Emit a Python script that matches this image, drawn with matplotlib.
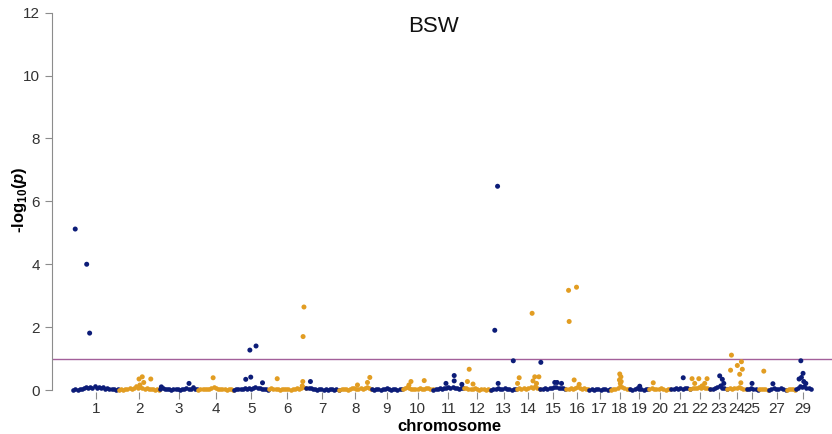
import matplotlib.pyplot as plt
import numpy as np

plt.rcParams['font.family'] = ['Liberation Sans', 'DejaVu Sans']
plt.rcParams['mathtext.fontset'] = 'custom'
plt.rcParams['mathtext.rm'] = 'Liberation Sans'
plt.rcParams['mathtext.bf'] = 'Liberation Sans:bold'
plt.rcParams['mathtext.bfit'] = 'Liberation Sans:bold:italic'

# chromosome lengths (Mb)
chrom_len = [155, 141, 129, 122, 119, 127, 112, 111, 104, 105, 104, 92, 88, 80, 88,
             78, 73, 65, 66, 75, 65, 68, 58, 65, 41, 34, 61, 31, 54]
tick_chroms = list(range(1, 26)) + [27, 29]
threshold = 1.0

# background markers near zero, spread along each chromosome
base_vals = [
    [0.01, 0.02, 0.01, 0.02, 0.03, 0.05, 0.09, 0.06, 0.11, 0.08, 0.12, 0.07, 0.10, 0.05, 0.09, 0.04, 0.06, 0.03, 0.02, 0.04, 0.01, 0.02],
    [0.01, 0.02, 0.01, 0.03, 0.02, 0.05, 0.04, 0.08, 0.12, 0.06, 0.10, 0.05, 0.03, 0.07, 0.04, 0.02, 0.03, 0.01, 0.02, 0.01],
    [0.02, 0.08, 0.04, 0.02, 0.03, 0.01, 0.02, 0.04, 0.02, 0.01, 0.03, 0.02, 0.05, 0.02, 0.03, 0.09, 0.04, 0.02],
    [0.01, 0.02, 0.03, 0.02, 0.04, 0.03, 0.06, 0.10, 0.05, 0.03, 0.02, 0.04, 0.02, 0.01, 0.03, 0.02, 0.01],
    [0.01, 0.02, 0.03, 0.02, 0.04, 0.05, 0.03, 0.08, 0.04, 0.06, 0.09, 0.05, 0.07, 0.03, 0.04, 0.02, 0.01],
    [0.03, 0.06, 0.04, 0.02, 0.03, 0.01, 0.02, 0.04, 0.03, 0.02, 0.01, 0.03, 0.02, 0.05, 0.04, 0.08, 0.10, 0.06],
    [0.06, 0.08, 0.05, 0.03, 0.02, 0.01, 0.02, 0.03, 0.01, 0.02, 0.01, 0.03, 0.02, 0.01, 0.02, 0.01],
    [0.01, 0.02, 0.03, 0.02, 0.01, 0.03, 0.05, 0.08, 0.04, 0.03, 0.06, 0.04, 0.07, 0.09, 0.05, 0.03],
    [0.02, 0.01, 0.03, 0.02, 0.01, 0.04, 0.02, 0.05, 0.03, 0.01, 0.04, 0.02, 0.01, 0.03, 0.02],
    [0.04, 0.07, 0.10, 0.06, 0.03, 0.02, 0.04, 0.03, 0.05, 0.02, 0.03, 0.08, 0.05, 0.03, 0.02],
    [0.01, 0.02, 0.04, 0.06, 0.03, 0.08, 0.05, 0.10, 0.07, 0.09, 0.05, 0.06, 0.04, 0.08, 0.05],
    [0.05, 0.08, 0.04, 0.02, 0.03, 0.06, 0.02, 0.01, 0.03, 0.02, 0.01, 0.02, 0.01],
    [0.01, 0.02, 0.03, 0.05, 0.02, 0.04, 0.06, 0.03, 0.02, 0.01, 0.03, 0.02],
    [0.04, 0.06, 0.03, 0.05, 0.04, 0.07, 0.10, 0.08, 0.12, 0.05, 0.03],
    [0.02, 0.03, 0.05, 0.04, 0.06, 0.08, 0.10, 0.09, 0.07, 0.05, 0.06, 0.03],
    [0.02, 0.04, 0.06, 0.03, 0.05, 0.10, 0.06, 0.04, 0.07, 0.03, 0.02],
    [0.01, 0.02, 0.01, 0.03, 0.02, 0.01, 0.02, 0.03, 0.01, 0.02],
    [0.01, 0.02, 0.04, 0.08, 0.12, 0.10, 0.05, 0.03, 0.02],
    [0.02, 0.01, 0.03, 0.05, 0.02, 0.04, 0.01, 0.02, 0.03],
    [0.03, 0.06, 0.04, 0.02, 0.03, 0.05, 0.02, 0.01, 0.03, 0.02],
    [0.02, 0.03, 0.05, 0.03, 0.06, 0.04, 0.08, 0.05, 0.03],
    [0.03, 0.08, 0.05, 0.06, 0.10, 0.07, 0.09, 0.06, 0.05, 0.04],
    [0.02, 0.04, 0.06, 0.10, 0.12, 0.08, 0.05, 0.03],
    [0.03, 0.05, 0.04, 0.08, 0.06, 0.10, 0.05, 0.04, 0.03],
    [0.02, 0.04, 0.06, 0.03, 0.02, 0.01],
    [0.02, 0.04, 0.03, 0.02, 0.01],
    [0.01, 0.03, 0.06, 0.04, 0.02, 0.05, 0.02, 0.01],
    [0.01, 0.02, 0.03, 0.02, 0.01],
    [0.04, 0.08, 0.12, 0.10, 0.14, 0.08, 0.05, 0.03],
]

# markers that stand out (chromosome, position in Mb, -log10 p)
hit_chr = [1, 1, 1,
           2, 2, 2, 2, 2,
           3, 3, 4,
           5, 5, 5, 5, 5,
           6, 6, 6, 6, 6,
           7, 8, 8, 8,
           10, 10, 10,
           11, 11, 11, 11,
           12, 12, 12,
           13, 13, 13, 13,
           14, 14, 14, 14, 14, 14, 14,
           15, 15, 15, 15,
           16, 16, 16, 16, 16,
           18, 18, 18, 18, 18,
           19, 20, 21,
           22, 22, 22, 22, 22, 22,
           23, 23, 23, 23,
           24, 24, 24, 24, 24, 24, 24,
           25, 26, 27,
           29, 29, 29, 29, 29, 29]
hit_pos = [8, 47, 57,
           70, 81, 86, 110, 73,
           99, 5, 52,
           55, 76, 41, 58, 98,
           29, 117, 120, 116, 114,
           15, 105, 97, 63,
           30, 75, 23,
           72, 72, 44, 98,
           19, 13, 32,
           23.5, 14, 77, 25.5,
           53, 9, 3.5, 62, 76, 56, 68,
           2.7, 50, 58, 73,
           9, 36, 11, 28, 45,
           32, 36, 31, 37, 34,
           35, 15, 42,
           7, 30, 58, 50, 16, 41,
           33, 42, 47, 37,
           15, 12, 35, 49, 52, 43, 47,
           20, 19, 16,
           19, 26.5, 21, 13, 29, 36]
hit_val = [5.12, 4.00, 1.81,
           0.35, 0.42, 0.24, 0.35, 0.16,
           0.21, 0.10, 0.39,
           1.27, 1.40, 0.34, 0.41, 0.23,
           0.36, 1.70, 2.64, 0.27, 0.13,
           0.27, 0.40, 0.24, 0.16,
           0.27, 0.30, 0.16,
           0.46, 0.29, 0.21, 0.18,
           0.66, 0.27, 0.19,
           6.48, 1.90, 0.93, 0.21,
           2.44, 0.39, 0.21, 0.42, 0.42, 0.29, 0.21,
           0.88, 0.24, 0.24, 0.21,
           3.17, 3.27, 2.18, 0.32, 0.18,
           0.51, 0.42, 0.32, 0.27, 0.21,
           0.12, 0.23, 0.39,
           0.36, 0.36, 0.36, 0.21, 0.21, 0.13,
           0.45, 0.34, 0.21, 0.13,
           1.11, 0.63, 0.78, 0.90, 0.66, 0.50, 0.23,
           0.21, 0.60, 0.20,
           0.93, 0.53, 0.40, 0.35, 0.27, 0.21]

navy = '#0c1c78'
gold = '#e29d22'

starts = np.concatenate([[0], np.cumsum(chrom_len)[:-1]])
centers = starts + np.array(chrom_len) / 2

fig = plt.figure(figsize=(8.32, 4.34), dpi=100)
ax = fig.add_axes([0.0625, 0.097, 0.9375, 0.8737])

for i, vals in enumerate(base_vals):
    L = chrom_len[i]
    x = starts[i] + np.linspace(1.5, L - 1.5, len(vals))
    ax.scatter(x, vals, s=11, color=navy if i % 2 == 0 else gold,
               linewidths=0, clip_on=False, zorder=3)

hx = [starts[c - 1] + p for c, p in zip(hit_chr, hit_pos)]
hc = [navy if c % 2 == 1 else gold for c in hit_chr]
ax.scatter(hx, hit_val, s=13, c=hc, linewidths=0, clip_on=False, zorder=4)

ax.axhline(threshold, color='#a3609a', lw=1.0, zorder=2)

ax.set_xlim(-71, 2582)
ax.set_ylim(-0.06, 12)
ax.set_yticks(range(0, 13, 2))
ax.set_xticks([centers[c - 1] for c in tick_chroms])
ax.set_xticklabels([str(c) for c in tick_chroms])

for s in ['top', 'right', 'bottom']:
    ax.spines[s].set_visible(False)
ax.spines['left'].set_bounds(0, 12)
ax.spines['left'].set_color('#8c8c8c')
ax.tick_params(axis='both', colors='#8c8c8c', labelcolor='#333333',
               labelsize=11, length=5, width=0.8)
ax.tick_params(axis='x', pad=2)

ax.set_ylabel('-log$_{\\mathbf{10}}$($\\mathbfit{p}$)', fontsize=12, fontweight='bold')
ax.yaxis.set_label_coords(-0.030, 0.506)
ax.set_xlabel('chromosome', fontsize=12, fontweight='bold')
ax.xaxis.set_label_coords(0.5 + (449 - 442) / 780, -0.071)

fig.text(434 / 832, 1 - 26 / 434, 'BSW', fontsize=16, ha='center', va='center', color='#111111')

plt.savefig('out.png', dpi=100)
